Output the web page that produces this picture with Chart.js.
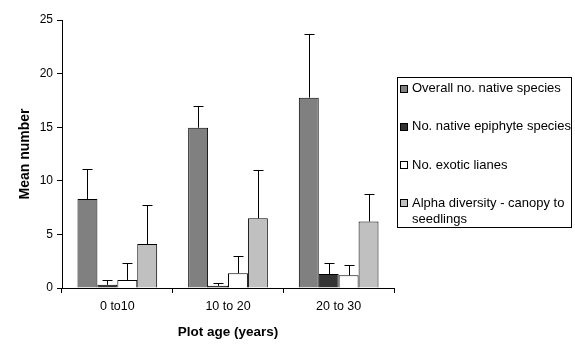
<!DOCTYPE html>
<html>
<head>
<meta charset="utf-8">
<script src="https://cdn.jsdelivr.net/npm/chart.js@4"></script>
<style>
html,body{margin:0;padding:0;background:#fff;}
#wrap{width:575px;height:353px;position:relative;}
</style>
</head>
<body>
<div id="wrap"><canvas id="c" width="575" height="353"></canvas></div>
<script>
const categories = ['0 to10', '10 to 20', '20 to 30'];
const seriesNames = [
  'Overall no. native species',
  'No. native epiphyte species',
  'No. exotic lianes',
  ['Alpha diversity - canopy to', 'seedlings']
];
const overallNative = [8.3, 14.95, 17.75];
const overallNativeErr = [2.8, 2.05, 5.9];
const nativeEpiphyte = [0.3, 0.2, 1.3];
const nativeEpiphyteErr = [0.45, 0.3, 1.0];
const exoticLianes = [0.75, 1.37, 1.18];
const exoticLianesErr = [1.55, 1.65, 0.97];
const alphaDiversity = [4.1, 6.5, 6.2];
const alphaDiversityErr = [3.6, 4.5, 2.55];
const yTicks = [0, 5, 10, 15, 20, 25];

const colors = ['#808080', '#333333', '#ffffff', '#c0c0c0'];
const values = [overallNative, nativeEpiphyte, exoticLianes, alphaDiversity];
const errs = [overallNativeErr, nativeEpiphyteErr, exoticLianesErr, alphaDiversityErr];

const FONT = "'Liberation Sans', Arial, sans-serif";

const errorBars = {
  id: 'errorBars',
  afterDatasetsDraw(chart) {
    const ctx = chart.ctx;
    const y = chart.scales.y;
    ctx.save();
    ctx.strokeStyle = '#000';
    ctx.lineWidth = 1;
    chart.data.datasets.forEach((ds, i) => {
      const meta = chart.getDatasetMeta(i);
      meta.data.forEach((bar, j) => {
        const top = y.getPixelForValue(ds.data[j] + ds.errors[j]);
        const base = y.getPixelForValue(ds.data[j]);
        const x = Math.round(bar.x) + 0.5;
        const t = Math.round(top) + 0.5;
        ctx.beginPath();
        ctx.moveTo(x, base);
        ctx.lineTo(x, t);
        ctx.moveTo(x - 5, t);
        ctx.lineTo(x + 5, t);
        ctx.stroke();
      });
    });
    ctx.restore();
  }
};

const boxLegend = {
  id: 'boxLegend',
  afterDraw(chart) {
    const ctx = chart.ctx;
    ctx.save();
    const L = 397.5, T = 77.5, R = 571.5, B = 227.5;
    ctx.fillStyle = '#fff';
    ctx.fillRect(L, T, R - L, B - T);
    ctx.strokeStyle = '#000';
    ctx.lineWidth = 1;
    ctx.strokeRect(L, T, R - L, B - T);
    ctx.font = '13px ' + FONT;
    ctx.textBaseline = 'middle';
    ctx.fillStyle = '#000';
    const ys = [88.5, 126.5, 165, 203];
    chart.data.datasets.forEach((ds, i) => {
      const yy = ys[i];
      ctx.fillStyle = ds.backgroundColor;
      ctx.fillRect(400.5, Math.round(yy) - 3.5, 7, 7);
      ctx.strokeStyle = '#000';
      ctx.strokeRect(400.5, Math.round(yy) - 3.5, 7, 7);
      ctx.fillStyle = '#000';
      const lines = Array.isArray(ds.label) ? ds.label : [ds.label];
      lines.forEach((ln, k) => ctx.fillText(ln, 412, yy + k * 16));
    });
    ctx.restore();
  }
};

new Chart(document.getElementById('c'), {
  type: 'bar',
  data: {
    labels: categories,
    datasets: values.map((v, i) => ({
      label: seriesNames[i],
      data: v,
      errors: errs[i],
      backgroundColor: colors[i],
      borderColor: '#000',
      borderWidth: 1,
      borderSkipped: 'bottom',
      categoryPercentage: 0.72,
      barPercentage: 1.0
    }))
  },
  options: {
    responsive: false,
    animation: false,
    devicePixelRatio: 1,
    layout: { padding: { top: 20, right: 181, left: 0, bottom: 0 } },
    plugins: { legend: { display: false }, tooltip: { enabled: false } },
    scales: {
      x: {
        offset: true,
        afterFit(s) { s.height = 65; },
        grid: { display: true, offset: true, drawOnChartArea: false, drawTicks: true, tickLength: 5, color: '#000' },
        border: { display: true, color: '#000', width: 1 },
        ticks: { color: '#000', font: { family: FONT, size: 12.5 }, padding: 6, maxRotation: 0 },
        title: { display: true, text: 'Plot age (years)', color: '#000', font: { family: FONT, size: 13.5, weight: 'bold' }, padding: { top: 0, bottom: 13 } }
      },
      y: {
        min: 0, max: 25,
        afterFit(s) { s.width = 62; },
        afterBuildTicks(s) { s.ticks = yTicks.map(v => ({ value: v })); },
        grid: { display: true, drawOnChartArea: false, drawTicks: true, tickLength: 5, color: '#000' },
        border: { display: true, color: '#000', width: 1 },
        ticks: { color: '#000', font: { family: FONT, size: 12 }, padding: 4 },
        title: { display: true, text: 'Mean number', color: '#000', font: { family: FONT, size: 14, weight: 'bold' }, padding: { top: 16.5, bottom: 0 } }
      }
    }
  },
  plugins: [errorBars, boxLegend]
});
</script>
</body>
</html>
